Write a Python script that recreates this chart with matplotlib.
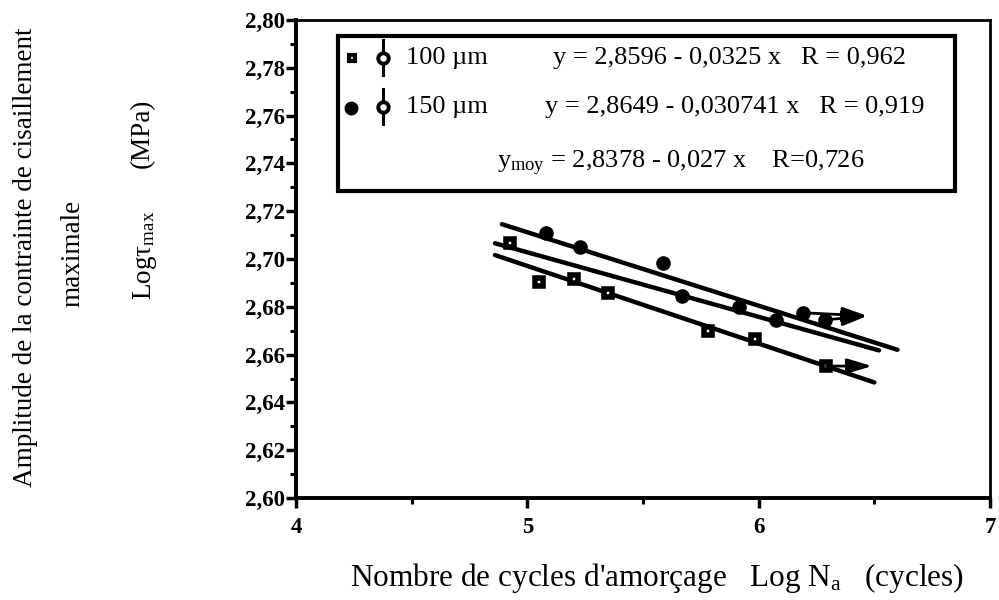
import matplotlib
matplotlib.use("Agg")
import matplotlib.pyplot as plt
import numpy as np
from matplotlib.patches import Rectangle, FancyArrowPatch
from matplotlib.ticker import FixedLocator, FuncFormatter, MultipleLocator

plt.rcParams['font.family'] = ['Liberation Serif', 'DejaVu Serif']
plt.rcParams['mathtext.fontset'] = 'custom'
plt.rcParams['mathtext.rm'] = 'Liberation Serif'
plt.rcParams['mathtext.it'] = 'Liberation Serif:italic'
plt.rcParams['mathtext.bf'] = 'Liberation Serif:bold'

# ---- data ----
x_100 = [4.925, 5.052, 5.203, 5.350, 5.782, 5.984, 6.293]
y_100 = [2.7066, 2.6902, 2.6915, 2.6857, 2.6699, 2.6665, 2.6552]
x_150 = [5.079, 5.227, 5.587, 5.669, 5.916, 6.077, 6.192, 6.286]
y_150 = [2.7108, 2.7051, 2.6985, 2.6845, 2.6800, 2.6745, 2.6775, 2.6745]

# run-out arrows
arrow_100_from = [6.293]
arrow_100_yfrom = [2.6552]
arrow_100_tip = (6.49, 2.6552)
arrow_150_from = [6.192, 6.286]
arrow_150_yfrom = [2.6775, 2.6745]
arrow_150_tip = (6.47, 2.6762)

# regression lines: intercept, slope, x-range
fit_150 = (2.8649, -0.030741, 4.89, 6.60)
fit_moy = (2.8378, -0.027, 4.86, 6.52)
fit_100 = (2.8596, -0.0325, 4.86, 6.50)

yticks = [2.60, 2.62, 2.64, 2.66, 2.68, 2.70, 2.72, 2.74, 2.76, 2.78, 2.80]
xticks = [4, 5, 6, 7]

W, H = 999, 600
fig = plt.figure(figsize=(W / 100, H / 100), dpi=100)
ax = fig.add_axes([296 / W, 1 - 498 / H, (990 - 296) / W, (498 - 20) / H])
ax.set_xlim(4, 7)
ax.set_ylim(2.60, 2.80)

for (b, a, x0, x1) in (fit_150, fit_moy, fit_100):
    xs = np.array([x0, x1])
    ax.plot(xs, b + a * xs, color='black', lw=3.2, solid_capstyle='round', zorder=2)

ax.plot(x_100, y_100, linestyle='none', marker='s', markersize=5.6,
        markerfacecolor='white', markeredgecolor='black', markeredgewidth=4.0, zorder=3)
ax.plot(x_150, y_150, linestyle='none', marker='o', markersize=9.5,
        markerfacecolor='black', markeredgecolor='black', zorder=3)

def arrow(x0, y0, tip):
    ax.add_patch(FancyArrowPatch((x0, y0), tip, arrowstyle='-|>,head_length=1.5,head_width=0.45',
                                 mutation_scale=10, color='black', lw=2.0,
                                 shrinkA=0, shrinkB=0, zorder=3))

for xf, yf in zip(arrow_100_from, arrow_100_yfrom):
    arrow(xf, yf, arrow_100_tip)
for xf, yf in zip(arrow_150_from, arrow_150_yfrom):
    arrow(xf, yf, arrow_150_tip)

# axes styling
for s in ['left', 'bottom']:
    ax.spines[s].set_linewidth(2.8)
for s in ['top', 'right']:
    ax.spines[s].set_linewidth(2.0)
ax.yaxis.set_major_locator(FixedLocator(yticks))
ax.yaxis.set_minor_locator(MultipleLocator(0.01))
ax.xaxis.set_major_locator(FixedLocator(xticks))
ax.xaxis.set_minor_locator(MultipleLocator(0.5))
ax.yaxis.set_major_formatter(FuncFormatter(lambda v, p: f"{v:.2f}".replace('.', ',')))
ax.xaxis.set_major_formatter(FuncFormatter(lambda v, p: f"{v:.0f}"))
ax.tick_params(axis='both', which='major', direction='out', length=7, width=2.5,
               labelsize=16.5, pad=1)
ax.tick_params(axis='both', which='minor', direction='out', length=4, width=2.2)
ax.tick_params(axis='x', which='major', pad=7)
for lab in ax.get_xticklabels() + ax.get_yticklabels():
    lab.set_fontweight('bold')

def fx(px):
    return px / W

def fy(py):
    return 1 - py / H

# legend box
fig.patches.append(Rectangle((fx(338), fy(191)), (955 - 338) / W, (191 - 36) / H,
                             transform=fig.transFigure, fill=False, lw=3.0,
                             edgecolor='black', zorder=5))

# legend symbols
fig.add_artist(plt.Line2D([fx(352)], [fy(58)], marker='s', markersize=4.2,
                          markerfacecolor='white', markeredgecolor='black',
                          markeredgewidth=3.0, linestyle='none', transform=fig.transFigure))
fig.add_artist(plt.Line2D([fx(351)], [fy(108)], marker='o', markersize=9,
                          markerfacecolor='black', markeredgecolor='black',
                          linestyle='none', transform=fig.transFigure))
for cy in (58, 107):
    fig.add_artist(plt.Line2D([fx(383), fx(383)], [fy(cy - 18), fy(cy + 17)], color='black',
                              lw=2.2, transform=fig.transFigure))
    fig.add_artist(plt.Line2D([fx(383)], [fy(cy)], marker='o', markersize=7.5,
                              markerfacecolor='white', markeredgecolor='black',
                              markeredgewidth=2.8, linestyle='none', transform=fig.transFigure))

fs_leg = 19
fig.text(fx(406), fy(58), "100 µm", fontsize=fs_leg, va='center', ha='left')
fig.text(fx(553), fy(58), "y = 2,8596 - 0,0325 x   R = 0,962", fontsize=fs_leg, va='center', ha='left')
fig.text(fx(406), fy(107), "150 µm", fontsize=fs_leg, va='center', ha='left')
fig.text(fx(545), fy(107), "y = 2,8649 - 0,030741 x   R = 0,919", fontsize=fs_leg, va='center', ha='left')
fig.text(fx(497), fy(168), r"y$_{\mathrm{moy}}$ = 2,8378 - 0,027 x    R=0,726", fontsize=fs_leg,
         va='baseline', ha='left')

# axis labels
fig.text(fx(657), fy(578), r"Nombre de cycles d'amorçage   Log N$_{\mathrm{a}}$   (cycles)",
         fontsize=22.5, ha='center', va='center')
fs_lab = 19.5
fig.text(fx(26), fy(257), "Amplitude de la contrainte de cisaillement", fontsize=fs_lab,
         rotation=90, ha='center', va='center')
fig.text(fx(73), fy(253), "maximale", fontsize=fs_lab, rotation=90, ha='center', va='center')
fig.text(fx(145), fy(255), r"Logτ$_{\mathrm{max}}$", fontsize=fs_lab, rotation=90,
         ha='center', va='center')
fig.text(fx(142), fy(133), "(MPa)", fontsize=fs_lab, rotation=90, ha='center', va='center')

fig.savefig("out.png", dpi=100)
